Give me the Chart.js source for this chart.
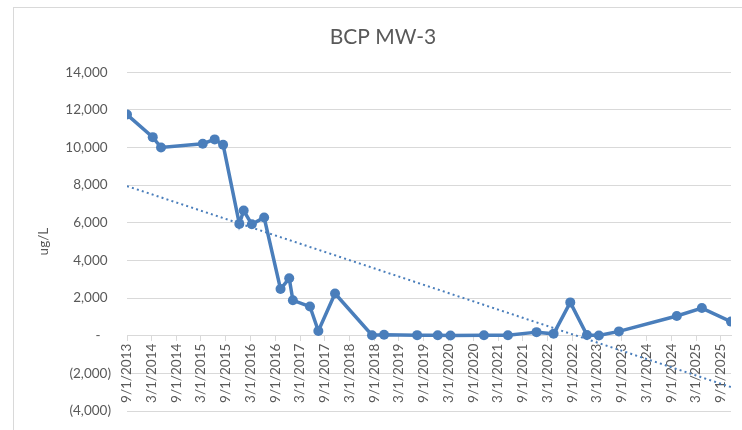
<!DOCTYPE html>
<html>
<head>
<meta charset="utf-8">
<script src="https://cdn.jsdelivr.net/npm/chart.js@4/dist/chart.umd.min.js"></script>
<style>
html,body{margin:0;padding:0;background:#ffffff;}
#wrap{position:relative;width:742px;height:430px;overflow:hidden;background:#ffffff;}
#frame{position:absolute;left:13px;top:7px;width:760px;height:460px;border:1px solid #d9d9d9;box-sizing:border-box;}
#c{position:absolute;left:0;top:0;}
</style>
</head>
<body>
<div id="wrap"><div id="frame"></div><canvas id="c" width="742" height="430"></canvas></div>
<script>
const chartTitle = 'BCP MW-3';
const yAxisTitle = 'ug/L';

const sampleDates = [
  '2013-09-01','2014-03-10','2014-05-10','2015-03-14','2015-06-10','2015-08-11',
  '2015-12-09','2016-01-10','2016-03-10','2016-06-09','2016-10-08','2016-12-11',
  '2017-01-07','2017-05-13','2017-07-14','2017-11-14','2018-08-14','2018-11-11',
  '2019-07-13','2019-12-12','2020-03-15','2020-11-17','2021-05-13','2021-12-10',
  '2022-04-15','2022-08-16','2022-12-17','2023-03-15','2023-08-10','2024-10-10',
  '2025-04-13','2025-11-14'
];
const concentrations = [
  11750, 10550, 10000, 10200, 10430, 10150,
  5940, 6650, 5920, 6280, 2480, 3050,
  1880, 1550, 250, 2240, 25, 50,
  30, 25, 15, 25, 25, 190,
  100, 1770, 40, 15, 230, 1045,
  1470, 750
];

const trendDates = ['2013-09-01', '2025-11-14'];
const trendValues = [7950, -2730];

const xTickLabels = [
  '9/1/2013','3/1/2014','9/1/2014','3/1/2015','9/1/2015','3/1/2016','9/1/2016',
  '3/1/2017','9/1/2017','3/1/2018','9/1/2018','3/1/2019','9/1/2019','3/1/2020',
  '9/1/2020','3/1/2021','9/1/2021','3/1/2022','9/1/2022','3/1/2023','9/1/2023',
  '3/1/2024','9/1/2024','3/1/2025','9/1/2025'
];
const yMin = -4000, yMax = 14000, yStep = 2000;

function isoDay(s) { const p = s.split('-').map(Number); return Date.UTC(p[0], p[1]-1, p[2]) / 86400000; }
function usDay(s) { const p = s.split('/').map(Number); return Date.UTC(p[2], p[0]-1, p[1]) / 86400000; }

const xTickValues = xTickLabels.map(usDay);
const seriesPoints = sampleDates.map((d, i) => ({x: isoDay(d), y: concentrations[i]}));
const trendPoints = trendDates.map((d, i) => ({x: isoDay(d), y: trendValues[i]}));

const blue = '#4a7ebb';
const textColor = '#595959';
const gridColor = '#d9d9d9';
const fontFamily = 'Lato, "Open Sans", sans-serif';

function fmtY(v) {
  if (v === 0) return '-   ';
  const s = Math.abs(v).toLocaleString('en-US');
  return v < 0 ? '(' + s + ')' : s + ' ';
}

new Chart(document.getElementById('c'), {
  type: 'line',
  data: {
    datasets: [
      {
        label: 'BCP MW-3',
        data: seriesPoints,
        borderColor: blue,
        backgroundColor: blue,
        borderWidth: 3.5,
        pointRadius: 5,
        pointBorderWidth: 0,
        pointBackgroundColor: blue,
        tension: 0,
        fill: false
      },
      {
        label: 'Linear (BCP MW-3)',
        data: trendPoints,
        borderColor: blue,
        borderWidth: 2,
        borderDash: [2, 3.2],
        pointRadius: 0,
        tension: 0,
        fill: false
      }
    ]
  },
  options: {
    responsive: false,
    animation: false,
    devicePixelRatio: 1,
    layout: { padding: { left: 35, right: 11, top: 0, bottom: 19 } },
    plugins: {
      legend: { display: false },
      tooltip: { enabled: false },
      title: {
        display: true,
        text: chartTitle,
        color: textColor,
        font: { family: fontFamily, size: 21, weight: 'normal' },
        padding: { top: 25, bottom: 22 }
      }
    },
    scales: {
      x: {
        type: 'linear',
        position: { y: 0 },
        min: xTickValues[0],
        max: isoDay(sampleDates[sampleDates.length - 1]),
        afterBuildTicks: (scale) => { scale.ticks = xTickValues.map(v => ({ value: v })); },
        ticks: {
          autoSkip: false,
          minRotation: 90,
          maxRotation: 90,
          color: textColor,
          padding: 3,
          font: { family: fontFamily, size: 13.5 },
          callback: (value, index) => xTickLabels[index]
        },
        grid: { drawOnChartArea: false, drawTicks: true, tickLength: 5, tickColor: gridColor },
        border: { display: true, color: gridColor, width: 1 }
      },
      y: {
        min: yMin,
        max: yMax,
        ticks: {
          stepSize: yStep,
          color: textColor,
          padding: 0,
          font: { family: fontFamily, size: 13.5 },
          callback: (v) => fmtY(v)
        },
        grid: { color: gridColor, drawTicks: true, tickLength: 16, tickColor: 'rgba(0,0,0,0)', lineWidth: 1 },
        border: { display: false },
        title: {
          display: true,
          text: yAxisTitle,
          color: textColor,
          font: { family: fontFamily, size: 13.5 },
          padding: { top: 1, bottom: 0 }
        },
        afterFit: (scale) => { scale.width = 92; }
      }
    }
  }
});
</script>
</body>
</html>
